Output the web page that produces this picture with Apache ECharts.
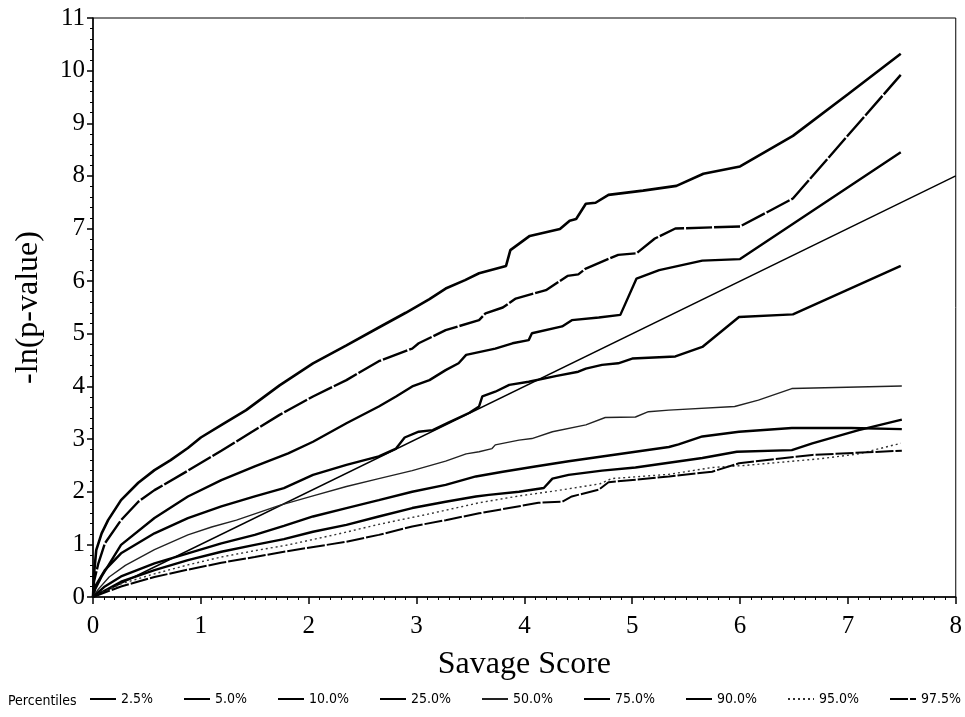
<!DOCTYPE html>
<html>
<head>
<meta charset="utf-8">
<script src="https://cdn.jsdelivr.net/npm/echarts@6/dist/echarts.min.js"></script>
<style>
  html, body { margin: 0; padding: 0; background: #fff; }
  #chart { width: 965px; height: 717px; }
</style>
</head>
<body>
<div id="chart"></div>
<script>
// Percentile curves of -ln(p-value) against the Savage score: [score, -ln(p)]
const percentileNames = ['2.5%', '5.0%', '10.0%', '25.0%', '50.0%', '75.0%', '90.0%', '95.0%', '97.5%'];

const p025 = [[0,0],[0.01,0.45],[0.03,0.89],[0.08,1.21],[0.14,1.46],[0.26,1.84],[0.42,2.17],[0.57,2.41],[0.72,2.6],[0.88,2.83],[1.0,3.03],[1.2,3.28],[1.42,3.55],[1.73,4.02],[2.04,4.44],[2.35,4.78],[2.65,5.12],[2.9,5.4],[3.12,5.66],[3.27,5.86],[3.45,6.02],[3.58,6.15],[3.83,6.29],[3.87,6.59],[4.05,6.86],[4.2,6.93],[4.33,6.99],[4.42,7.15],[4.48,7.18],[4.57,7.47],[4.66,7.49],[4.78,7.64],[5.1,7.72],[5.41,7.81],[5.66,8.04],[6.0,8.18],[6.49,8.76],[7.0,9.55],[7.49,10.32]];
const p050 = [[0,0],[0.01,0.3],[0.05,0.64],[0.11,1.02],[0.26,1.46],[0.42,1.81],[0.57,2.03],[0.88,2.4],[1.19,2.78],[1.46,3.12],[1.73,3.46],[2.04,3.81],[2.35,4.12],[2.65,4.48],[2.96,4.72],[3.02,4.82],[3.27,5.07],[3.58,5.26],[3.64,5.39],[3.8,5.5],[3.92,5.67],[4.2,5.83],[4.4,6.1],[4.5,6.13],[4.57,6.24],[4.87,6.5],[5.04,6.53],[5.21,6.81],[5.4,7.0],[6.0,7.04],[6.49,7.57],[7.49,9.92]];
const p100 = [[0,0],[0.02,0.15],[0.08,0.39],[0.26,0.99],[0.57,1.5],[0.88,1.91],[1.19,2.22],[1.5,2.48],[1.81,2.73],[2.04,2.95],[2.35,3.3],[2.65,3.62],[2.81,3.81],[2.96,4.0],[3.12,4.12],[3.27,4.31],[3.39,4.44],[3.46,4.6],[3.73,4.72],[3.89,4.82],[4.04,4.88],[4.07,5.01],[4.35,5.14],[4.44,5.26],[4.69,5.31],[4.89,5.36],[5.04,6.05],[5.25,6.21],[5.65,6.39],[6.0,6.42],[7.49,8.45]];
const p250 = [[0,0],[0.02,0.2],[0.11,0.51],[0.26,0.83],[0.57,1.21],[0.88,1.5],[1.19,1.72],[1.5,1.91],[1.77,2.07],[2.04,2.32],[2.35,2.51],[2.65,2.67],[2.81,2.82],[2.89,3.03],[3.02,3.14],[3.15,3.17],[3.3,3.32],[3.49,3.5],[3.58,3.62],[3.61,3.81],[3.73,3.9],[3.86,4.03],[4.04,4.09],[4.3,4.2],[4.5,4.28],[4.57,4.34],[4.72,4.41],[4.87,4.44],[5.0,4.53],[5.4,4.57],[5.65,4.75],[5.99,5.32],[6.49,5.37],[7.49,6.29]];
const p500 = [[0,0],[0.05,0.15],[0.15,0.38],[0.3,0.6],[0.57,0.9],[0.88,1.18],[1.1,1.33],[1.33,1.46],[1.73,1.74],[2.04,1.92],[2.35,2.1],[2.65,2.25],[2.96,2.4],[3.27,2.58],[3.46,2.72],[3.58,2.76],[3.7,2.82],[3.73,2.89],[3.95,2.98],[4.07,3.01],[4.26,3.14],[4.57,3.27],[4.75,3.41],[5.03,3.42],[5.15,3.52],[5.34,3.55],[5.95,3.62],[6.17,3.74],[6.48,3.96],[7.5,4.01]];
const p750 = [[0,0],[0.11,0.2],[0.26,0.39],[0.57,0.64],[0.88,0.83],[1.19,1.02],[1.5,1.18],[1.77,1.35],[2.04,1.53],[2.35,1.69],[2.65,1.84],[2.96,2.0],[3.27,2.13],[3.55,2.29],[3.8,2.38],[4.1,2.48],[4.41,2.58],[4.72,2.67],[5.03,2.76],[5.34,2.85],[5.43,2.9],[5.65,3.05],[5.99,3.14],[6.48,3.21],[7.03,3.21],[7.5,3.19]];
const p900 = [[0,0],[0.26,0.29],[0.57,0.51],[0.88,0.7],[1.19,0.86],[1.5,0.99],[1.77,1.1],[2.04,1.24],[2.35,1.37],[2.65,1.53],[2.96,1.69],[3.27,1.81],[3.55,1.91],[3.67,1.94],[3.95,2.0],[4.18,2.07],[4.26,2.25],[4.41,2.32],[4.72,2.4],[5.03,2.46],[5.34,2.55],[5.65,2.64],[5.97,2.76],[6.48,2.79],[6.67,2.92],[7.1,3.17],[7.5,3.37]];
const p950 = [[0,0],[0.26,0.25],[0.57,0.44],[0.88,0.61],[1.19,0.76],[1.5,0.88],[1.81,0.99],[2.28,1.2],[2.65,1.38],[3.12,1.58],[3.58,1.79],[3.95,1.92],[4.3,2.02],[4.7,2.15],[4.81,2.25],[5.34,2.33],[5.74,2.46],[6.05,2.5],[6.76,2.63],[7.1,2.72],[7.49,2.92]];
const p975 = [[0,0],[0.26,0.2],[0.57,0.38],[0.88,0.52],[1.19,0.65],[1.5,0.76],[1.77,0.86],[2.35,1.05],[2.65,1.18],[2.96,1.34],[3.27,1.46],[3.58,1.59],[4.13,1.79],[4.35,1.81],[4.44,1.91],[4.69,2.04],[4.78,2.18],[5.34,2.29],[5.74,2.38],[5.99,2.54],[6.67,2.7],[7.5,2.78]];

// Reference line y = x
const identityLine = [[0,0],[8,8]];

const percentileData = [p025, p050, p100, p250, p500, p750, p900, p950, p975];

// Line appearance for each percentile curve
const lineStyles = [
  { width: 2.6, type: 'solid', color: '#000' },
  { width: 2.4, type: [26, 2], color: '#000' },
  { width: 2.4, type: 'solid', color: '#000' },
  { width: 2.4, type: 'solid', color: '#000' },
  { width: 1.4, type: 'solid', color: '#222' },
  { width: 2.4, type: 'solid', color: '#000' },
  { width: 2.4, type: 'solid', color: '#000' },
  { width: 1.4, type: [2, 3], color: '#333' },
  { width: 2.0, type: [18, 2], color: '#000' }
];

const serif = '"Liberation Serif", "DejaVu Serif", serif';
const narrow = '"Liberation Sans Narrow", "DejaVu Sans Condensed", "Liberation Sans", sans-serif';

const series = percentileNames.map((name, i) => ({
  name: name,
  type: 'line',
  data: percentileData[i],
  showSymbol: false,
  symbol: 'none',
  smooth: false,
  lineStyle: lineStyles[i],
  itemStyle: { color: lineStyles[i].color },
  z: 3
}));

series.push({
  name: 'identity',
  type: 'line',
  data: identityLine,
  showSymbol: false,
  symbol: 'none',
  lineStyle: { width: 1.4, color: '#000' },
  z: 2
});

const chart = echarts.init(document.getElementById('chart'));
chart.setOption({
  animation: false,
  backgroundColor: '#fff',
  grid: {
    left: 93, right: 7, top: 18, bottom: 120,
    show: true, borderColor: '#000', borderWidth: 1, backgroundColor: 'transparent'
  },
  xAxis: {
    type: 'value', min: 0, max: 8, interval: 1,
    name: 'Savage Score', nameLocation: 'middle', nameGap: 52,
    nameTextStyle: { fontFamily: serif, fontSize: 32, color: '#000' },
    axisLine: { lineStyle: { color: '#000', width: 1.5 } },
    axisTick: { length: 7, lineStyle: { color: '#000', width: 1.5 } },
    minorTick: { show: true, splitNumber: 10, length: 3, lineStyle: { color: '#000', width: 1 } },
    splitLine: { show: false },
    axisLabel: { fontFamily: serif, fontSize: 25, color: '#000', margin: 17 }
  },
  yAxis: {
    type: 'value', min: 0, max: 11, interval: 1,
    name: '-ln(p-value)', nameLocation: 'middle', nameGap: 48,
    nameTextStyle: { fontFamily: serif, fontSize: 32, color: '#000' },
    axisLine: { show: true, lineStyle: { color: '#000', width: 1.5 } },
    axisTick: { show: true, length: 6, lineStyle: { color: '#000', width: 1.5 } },
    minorTick: { show: true, splitNumber: 5, length: 3, lineStyle: { color: '#000', width: 1 } },
    splitLine: { show: false },
    axisLabel: { fontFamily: serif, fontSize: 25, color: '#000', margin: 8 }
  },
  legend: {
    data: percentileNames,
    orient: 'horizontal',
    left: 84, bottom: 6, width: 1200,
    itemWidth: 26, itemHeight: 10, itemGap: 30,
    itemStyle: { opacity: 0 },
    textStyle: { fontFamily: narrow, fontSize: 14, color: '#000' }
  },
  graphic: [{
    type: 'text', left: 8, bottom: 9,
    style: { text: 'Percentiles', font: '14px ' + narrow, fill: '#000' }
  }],
  series: series
});
</script>
</body>
</html>
